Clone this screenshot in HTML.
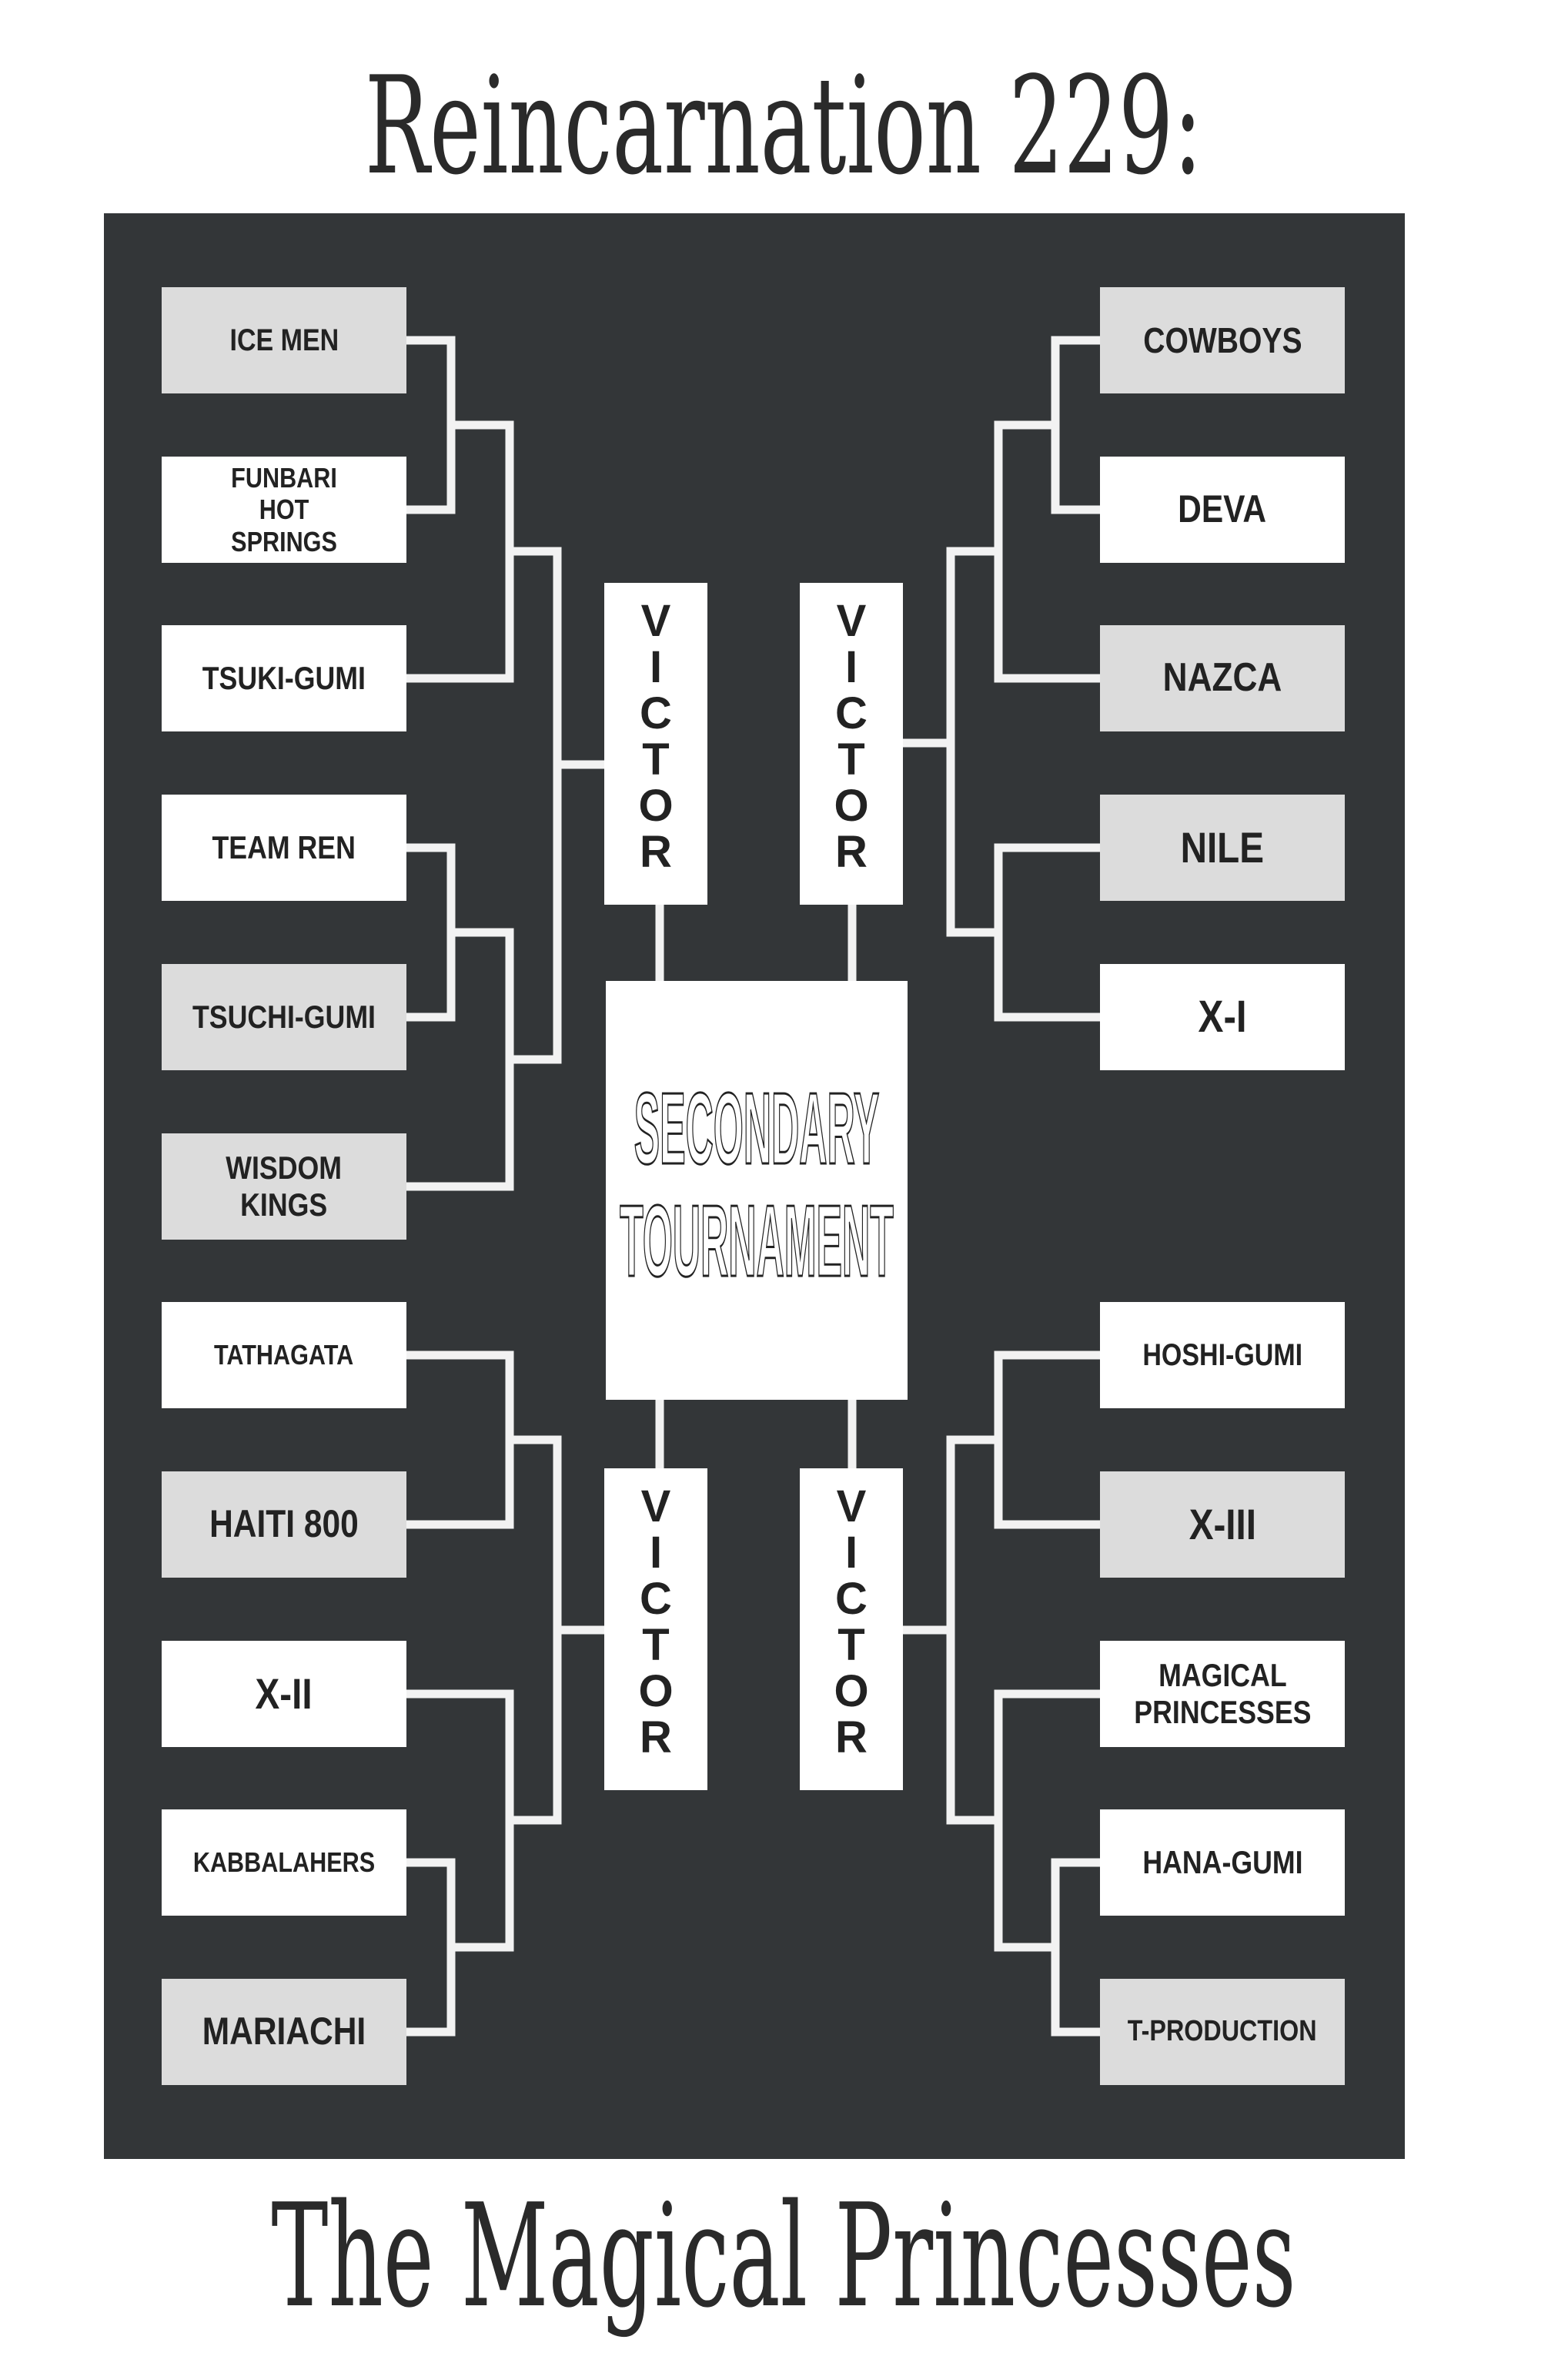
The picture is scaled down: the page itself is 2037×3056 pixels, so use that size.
<!DOCTYPE html>
<html><head><meta charset="utf-8"><style>
body{margin:0;background:#fff;}
#c{position:relative;width:2037px;height:3056px;overflow:hidden;background:#fff;font-family:"Liberation Sans",Arial,sans-serif;}
.panel{position:absolute;left:135px;top:277px;width:1690px;height:2527px;background:#333638;}
.b{position:absolute;width:318px;height:138px;background:#fff;display:flex;align-items:center;justify-content:center;text-align:center;font-weight:bold;color:#222;line-height:1.15;}
.g{background:#dcdcdc;}
.b span{display:inline-block;transform:scaleX(0.85);}
.v{position:absolute;width:134px;height:418px;background:#fff;}
.v div{position:absolute;left:0;width:134px;text-align:center;font-weight:900;font-size:58px;color:#222;line-height:60px;}
.ctr{position:absolute;left:787px;top:1274px;width:392px;height:544px;background:#fff;}
.ct{position:absolute;left:196px;white-space:nowrap;font-weight:bold;color:#fff;-webkit-text-stroke:3px #222;font-size:132px;line-height:110px;}
.t{position:absolute;left:1018px;white-space:nowrap;font-family:"DejaVu Serif","Liberation Serif",serif;color:#2a2a2a;}
</style></head><body><div id="c">
<div class="t" style="top:70px;font-size:175px;line-height:190px;transform:translateX(-50%) scaleX(0.64);">Reincarnation 229:</div>
<div class="panel"></div>
<svg style="position:absolute;left:0;top:0" width="2037" height="3056">
<g fill="none" stroke="#f2f2f2" stroke-width="11" stroke-linejoin="miter" stroke-linecap="square">
<polyline points="528,442 586,442 586,662 528,662"/>
<polyline points="586,552 662,552 662,881 528,881"/>
<polyline points="528,1101 586,1101 586,1321 528,1321"/>
<polyline points="586,1211 662,1211 662,1541 528,1541"/>
<polyline points="662,716 724,716 724,1376 662,1376"/>
<line x1="724" y1="993" x2="787" y2="993"/>
<polyline points="528,1760 662,1760 662,1980 528,1980"/>
<polyline points="528,2200 662,2200 662,2529"/>
<polyline points="528,2419 586,2419 586,2639 528,2639"/>
<line x1="586" y1="2529" x2="662" y2="2529"/>
<polyline points="662,1870 724,1870 724,2364 662,2364"/>
<line x1="724" y1="2117" x2="787" y2="2117"/>
<polyline points="1429,442 1371,442 1371,662 1429,662"/>
<polyline points="1371,552 1297,552 1297,881 1429,881"/>
<polyline points="1429,1101 1297,1101 1297,1321 1429,1321"/>
<polyline points="1297,716 1235,716 1235,1211 1297,1211"/>
<line x1="1235" y1="965" x2="1173" y2="965"/>
<polyline points="1429,1760 1297,1760 1297,1980 1429,1980"/>
<polyline points="1429,2200 1297,2200 1297,2529"/>
<polyline points="1429,2419 1371,2419 1371,2639 1429,2639"/>
<line x1="1371" y1="2529" x2="1297" y2="2529"/>
<polyline points="1297,1870 1235,1870 1235,2364 1297,2364"/>
<line x1="1235" y1="2117" x2="1173" y2="2117"/>
<line x1="857" y1="1175" x2="857" y2="1274"/>
<line x1="1107" y1="1175" x2="1107" y2="1274"/>
<line x1="857" y1="1818" x2="857" y2="1907"/>
<line x1="1107" y1="1818" x2="1107" y2="1907"/>
</g></svg>

<div class="b g" style="left:210px;top:373px;font-size:40px"><span>ICE MEN</span></div>
<div class="b" style="left:210px;top:593px;font-size:36px"><span>FUNBARI<br>HOT<br>SPRINGS</span></div>
<div class="b" style="left:210px;top:812px;font-size:42px"><span>TSUKI-GUMI</span></div>
<div class="b" style="left:210px;top:1032px;font-size:42px"><span>TEAM REN</span></div>
<div class="b g" style="left:210px;top:1252px;font-size:42px"><span>TSUCHI-GUMI</span></div>
<div class="b g" style="left:210px;top:1472px;font-size:42px"><span>WISDOM<br>KINGS</span></div>
<div class="b" style="left:210px;top:1691px;font-size:36px"><span>TATHAGATA</span></div>
<div class="b g" style="left:210px;top:1911px;font-size:50px"><span>HAITI 800</span></div>
<div class="b" style="left:210px;top:2131px;font-size:56px"><span>X-II</span></div>
<div class="b" style="left:210px;top:2350px;font-size:36px"><span>KABBALAHERS</span></div>
<div class="b g" style="left:210px;top:2570px;font-size:50px"><span>MARIACHI</span></div>

<div class="b g" style="left:1429px;top:373px;font-size:46px"><span>COWBOYS</span></div>
<div class="b" style="left:1429px;top:593px;font-size:50px"><span>DEVA</span></div>
<div class="b g" style="left:1429px;top:812px;font-size:52px"><span>NAZCA</span></div>
<div class="b g" style="left:1429px;top:1032px;font-size:56px"><span>NILE</span></div>
<div class="b" style="left:1429px;top:1252px;font-size:58px"><span>X-I</span></div>
<div class="b" style="left:1429px;top:1691px;font-size:40px"><span>HOSHI-GUMI</span></div>
<div class="b g" style="left:1429px;top:1911px;font-size:56px"><span>X-III</span></div>
<div class="b" style="left:1429px;top:2131px;font-size:42px"><span>MAGICAL<br>PRINCESSES</span></div>
<div class="b" style="left:1429px;top:2350px;font-size:42px"><span>HANA-GUMI</span></div>
<div class="b g" style="left:1429px;top:2570px;font-size:38px"><span>T-PRODUCTION</span></div>

<div class="v" style="left:785px;top:757px"><div style="top:20px">V<br>I<br>C<br>T<br>O<br>R</div></div>
<div class="v" style="left:1039px;top:757px"><div style="top:20px">V<br>I<br>C<br>T<br>O<br>R</div></div>
<div class="v" style="left:785px;top:1907px"><div style="top:20px">V<br>I<br>C<br>T<br>O<br>R</div></div>
<div class="v" style="left:1039px;top:1907px"><div style="top:20px">V<br>I<br>C<br>T<br>O<br>R</div></div>

<div class="ctr">
<div class="ct" style="top:137px;transform:translateX(-50%) scaleX(0.38);">SECONDARY</div>
<div class="ct" style="top:283px;transform:translateX(-50%) scaleX(0.38);">TOURNAMENT</div>
</div>

<div class="t" style="top:2830px;font-size:185px;line-height:200px;transform:translateX(-50%) scaleX(0.6);">The Magical Princesses</div>
</div></body></html>
